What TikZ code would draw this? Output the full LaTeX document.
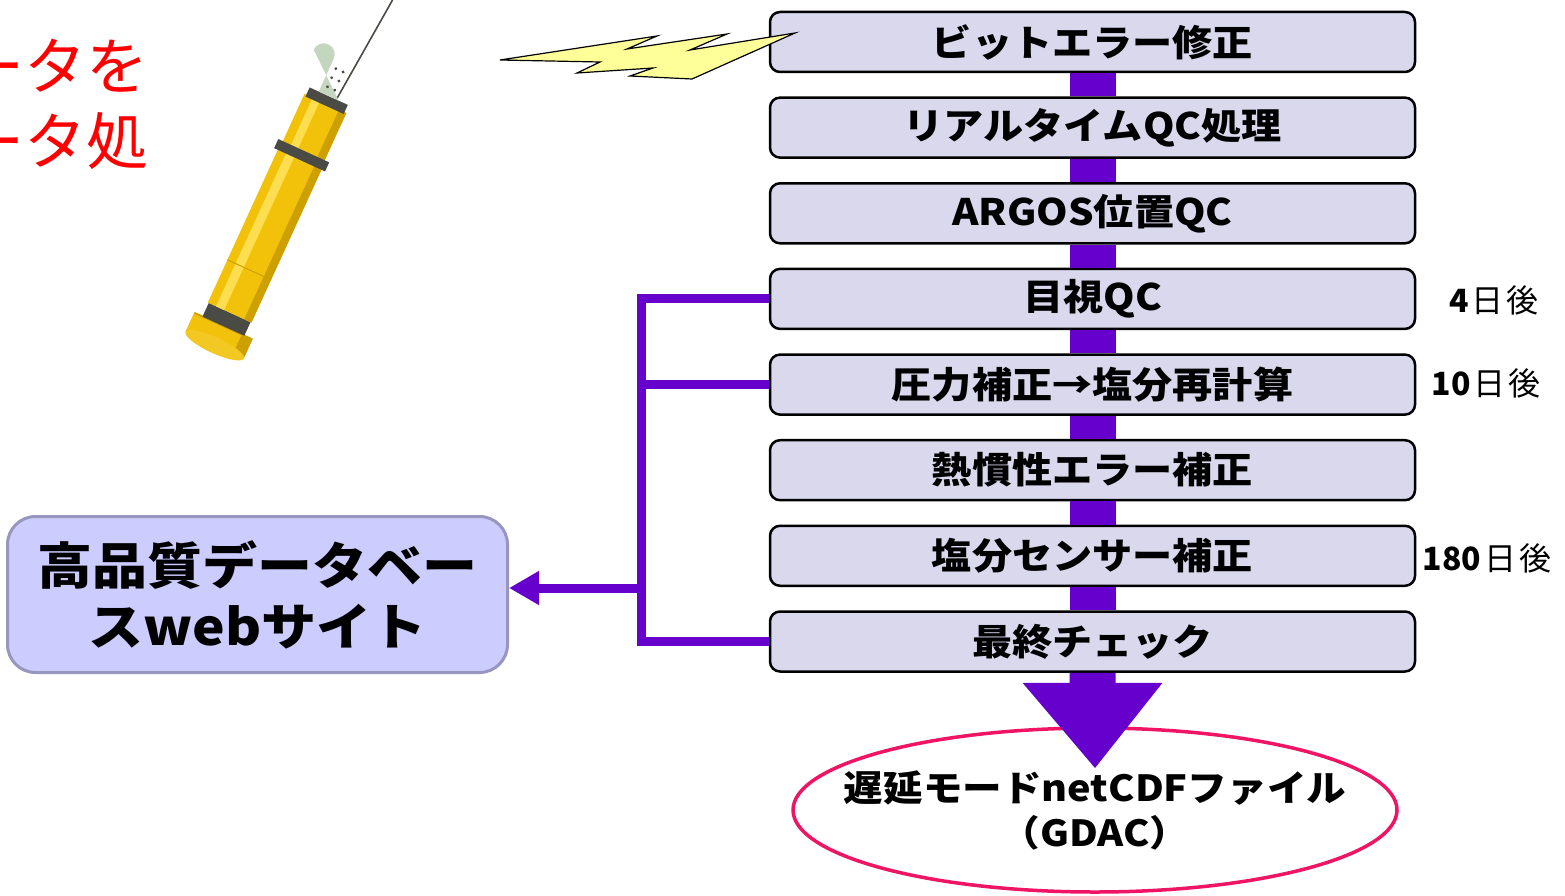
\documentclass[tikz,border=0pt]{standalone}
\usepackage{fontspec}
\usetikzlibrary{arrows.meta,calc,shapes.geometric}
\newfontfamily\jp{Noto Sans CJK JP}
\newfontfamily\jpw[FakeStretch=1.1]{Noto Sans CJK JP}

\definecolor{boxfill}{RGB}{217,216,236}
\definecolor{vio}{RGB}{102,0,204}
\definecolor{dbfill}{RGB}{204,204,255}
\definecolor{dbedge}{RGB}{150,150,190}
\definecolor{pinkred}{RGB}{240,20,100}
\definecolor{bolt}{RGB}{255,255,153}
\definecolor{fltbody}{RGB}{242,194,10}
\definecolor{fltlight}{RGB}{252,222,80}
\definecolor{fltdark}{RGB}{205,160,0}
\definecolor{fltring}{RGB}{75,75,70}
\definecolor{sensor}{RGB}{196,214,190}

\tikzset{
  stepbox/.style={draw=black, line width=2.5pt, fill=boxfill, rounded corners=10pt,
    minimum width=645pt, minimum height=60pt, inner sep=0pt,
    font=\jpw\bfseries\fontsize{36.5}{40}\selectfont},
  link/.style={vio, line width=46pt},
  busline/.style={draw=vio, line width=9pt},
  daylabel/.style={inner sep=0pt, font=\jp\fontsize{32}{34}\selectfont},
  redtext/.style={inner sep=0pt, anchor=east, text=red, font=\jp\fontsize{62}{66}\selectfont},
}

\begin{document}
\begin{tikzpicture}[x=1pt, y=-1pt]
\useasboundingbox (0,0) rectangle (1565,896);

% red caption, running in from the left edge
\node[redtext] (cap1) at (149,66) {ータを};
\node[redtext] (cap2) at (149,141) {ータ処};

% Argo float
\begin{scope}[shift={(218,338)}, rotate=65.4]
  % antenna
  \draw[fltring, line width=1.6pt] (262,8) -- (380,18);
  % bottom cap
  \fill[fltdark] (-8,-32) -- (14,-32) -- (14,32) -- (-8,32) -- cycle;
  \fill[fltbody] (-8,-32) -- (12,-32) -- (12,20) -- (-8,20) -- cycle;
  \fill[fltbody!90!white] (-8,0) ellipse[x radius=8pt, y radius=32pt];
  % dark ring above cap
  \fill[fltring] (13,-23) -- (28,-23) -- (28,23) -- (13,23) -- cycle;
  % lower and main body
  \fill[fltbody] (28,-24) -- (200,-24) -- (200,24) -- (28,24) -- cycle;
  \fill[fltlight] (28,-15) -- (200,-15) -- (200,-6) -- (28,-6) -- cycle;
  \fill[fltdark] (28,16) -- (200,16) -- (200,24) -- (28,24) -- cycle;
  \draw[fltdark, line width=1pt] (75,-24) -- (75,24);
  % upper body
  \fill[fltbody] (200,-23) -- (258,-23) -- (258,23) -- (200,23) -- cycle;
  \fill[fltlight] (200,-14) -- (258,-14) -- (258,-6) -- (200,-6) -- cycle;
  \fill[fltdark] (200,15) -- (258,15) -- (258,23) -- (200,23) -- cycle;
  % O-ring
  \fill[fltring] (196,-28) -- (206,-28) -- (206,28) -- (196,28) -- cycle;
  % collar
  \fill[fltring] (256,-21) -- (266,-21) -- (266,21) -- (256,21) -- cycle;
  % sensor head
  \fill[sensor] (266,-11) -- (302,-11) arc[start angle=-90, end angle=90, radius=11pt] -- (266,11) -- cycle;
  \foreach \s in {274,284,294}{
    \fill[fltring] (\s,-5) circle[radius=1.6pt];
    \fill[fltring] (\s,3) circle[radius=1.6pt];
  }
\end{scope}

% processing steps
\node[stepbox] (b1) at (1092.5,42)    {ビットエラー修正};
\node[stepbox] (b2) at (1092.5,127.6) {リアルタイムQC処理};
\node[stepbox] (b3) at (1092.5,213.3) {ARGOS位置QC};
\node[stepbox] (b4) at (1092.5,298.9) {目視QC};
\node[stepbox] (b5) at (1092.5,384.6) {圧力補正→塩分再計算};
\node[stepbox] (b6) at (1092.5,470.2) {熱慣性エラー補正};
\node[stepbox] (b7) at (1092.5,555.8) {塩分センサー補正};
\node[stepbox] (b8) at (1092.5,641.5) {最終チェック};

\foreach \a/\b in {b1/b2,b2/b3,b3/b4,b4/b5,b5/b6,b6/b7,b7/b8}
  \draw[link] (\a.south) -- (\b.north);

% elapsed days
\node[daylabel] (d4)   at (1494,300) {{\bfseries 4}\hspace{3pt}日\hspace{3pt}後};
\node[daylabel] (d10)  at (1486,383) {{\bfseries 10}\hspace{3pt}日\hspace{3pt}後};
\node[daylabel] (d180) at (1487,558) {{\bfseries 180}\hspace{3pt}日\hspace{3pt}後};

% radio link to the first step
\draw[fill=bolt, draw=black, line width=1.2pt, line join=miter]
  (500,60) -- (657,36) -- (627,49) -- (727,34) -- (690,50) -- (795,33)
  -- (692,79) -- (630,76) -- (653,68) -- (577,73) -- (600,62) -- cycle;

% database web site
\node[draw=dbedge, line width=3pt, fill=dbfill, rounded corners=28pt,
  minimum width=500pt, minimum height=156pt, inner sep=0pt, align=center,
  font=\jpw\bfseries\fontsize{50}{61}\selectfont] (db) at (257.5,594.5)
  {高品質データベー\\スwebサイト};

% bus from the checked steps to the database
\coordinate (bus) at (641,0);
\coordinate (tap) at (641,588);
\draw[busline, line join=miter] (b4.west) -- (b4.west -| bus) |- (b8.west);
\draw[busline] (b5.west) -- (b5.west -| bus);
\draw[busline, -{Triangle[length=30pt, width=32pt]}] (tap) -- (tap -| db.east);

% delayed-mode file
\node[ellipse, draw=pinkred, line width=3.5pt, minimum width=604pt, minimum height=164pt,
  inner sep=0pt] (gd) at (1095,810) {};
\node[align=center, inner sep=0pt, font=\jpw\bfseries\fontsize{36}{45}\selectfont]
  (gdtext) at (gd.center) {遅延モードnetCDFファイル\\（GDAC）};

% big arrow into the file
\coordinate (tip) at (1095,768);
\fill[vio] ($(b8.south)+(-23,0)$) -- ($(b8.south)+(-23,10)$) -- ($(b8.south)+(-70,10)$)
  -- (tip) -- ($(b8.south)+(70,10)$) -- ($(b8.south)+(23,10)$) -- ($(b8.south)+(23,0)$) -- cycle;
\end{tikzpicture}
\end{document}
